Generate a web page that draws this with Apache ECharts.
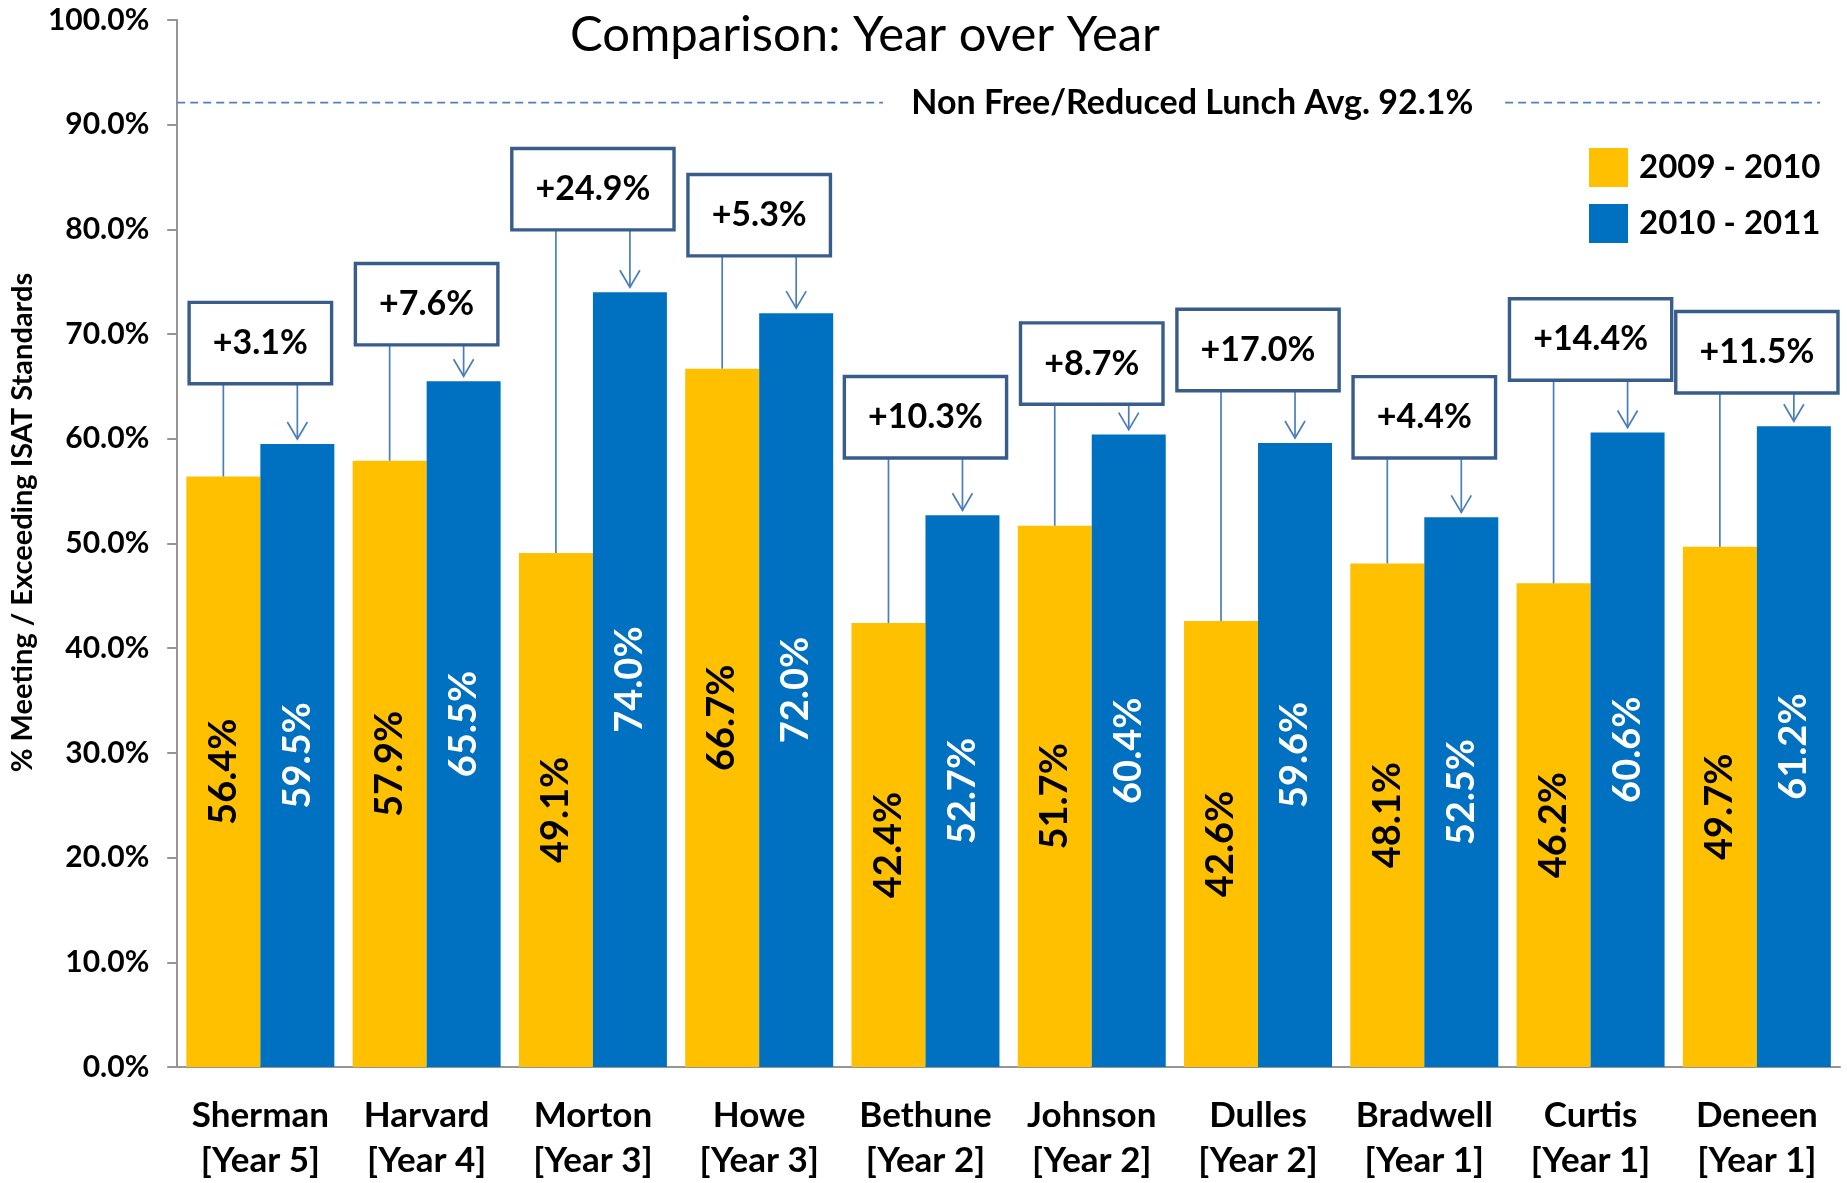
<!DOCTYPE html>
<html>
<head>
<meta charset="utf-8">
<script src="https://cdn.jsdelivr.net/npm/echarts@6/dist/echarts.min.js"></script>
<style>
  html, body { margin: 0; padding: 0; background: #fff; }
  #chart { width: 1847px; height: 1183px; }
</style>
</head>
<body>
<div id="chart"></div>
<script>
// schools on the x axis
var categories = [
  'Sherman\n[Year 5]', 'Harvard\n[Year 4]', 'Morton\n[Year 3]', 'Howe\n[Year 3]', 'Bethune\n[Year 2]',
  'Johnson\n[Year 2]', 'Dulles\n[Year 2]', 'Bradwell\n[Year 1]', 'Curtis\n[Year 1]', 'Deneen\n[Year 1]'
]
var seriesNames = ['2009 - 2010', '2010 - 2011']
var values0910 = [56.4, 57.9, 49.1, 66.7, 42.4, 51.7, 42.6, 48.1, 46.2, 49.7]
var values1011 = [59.5, 65.5, 74.0, 72.0, 52.7, 60.4, 59.6, 52.5, 60.6, 61.2]
var changeLabels = ['+3.1%', '+7.6%', '+24.9%', '+5.3%', '+10.3%', '+8.7%', '+17.0%', '+4.4%', '+14.4%', '+11.5%']
var benchmarkValue = 92.1
var benchmarkLabel = 'Non Free/Reduced Lunch Avg. 92.1%'
var yMin = 0, yMax = 100, yStep = 10

// layout: pixel gap between each callout box and its new-year bar
var calloutGap = [62, 38, 64, 59, 59, 32, 54, 61, 54, 35]

var FONT = 'Lato, "Open Sans", sans-serif'
var catGap = 0.11

var chart = echarts.init(document.getElementById('chart'))

function calloutItem(params, api) {
  var idx = api.value(0)
  var pOld = api.coord([idx, api.value(1)])
  var pNew = api.coord([idx, api.value(2)])
  var band = api.size([1, 0])[0]
  var barW = band * (1 - catGap) / 2
  var xOld = pOld[0] - barW / 2
  var xNew = pOld[0] + barW / 2
  var boxBottom = pNew[1] - calloutGap[idx]
  var lineStyle = { stroke: '#4A7EBB', lineWidth: 1.7 }
  return {
    type: 'group',
    children: [
      { type: 'line', shape: { x1: xOld, y1: boxBottom, x2: xOld, y2: pOld[1] }, style: lineStyle },
      { type: 'line', shape: { x1: xNew, y1: boxBottom, x2: xNew, y2: pNew[1] - 5 }, style: lineStyle },
      {
        type: 'polyline',
        shape: { points: [[xNew - 10, pNew[1] - 22], [xNew, pNew[1] - 5], [xNew + 10, pNew[1] - 22]] },
        style: { stroke: '#4A7EBB', lineWidth: 1.7, fill: 'none' }
      },
      {
        type: 'text',
        x: pOld[0],
        y: boxBottom,
        z2: 10,
        style: {
          text: changeLabels[idx],
          font: 'bold 34px ' + FONT,
          fill: '#000',
          align: 'center',
          verticalAlign: 'bottom',
          lineHeight: 42,
          backgroundColor: '#fff',
          borderColor: '#385D8A',
          borderWidth: 3.4,
          padding: [18, 22, 18, 22]
        }
      }
    ]
  }
}

function benchmarkItem(params, api) {
  var y = api.coord([0, api.value(1)])[1]
  var cs = params.coordSys
  var dash = { stroke: '#4F81BD', lineWidth: 1.8, lineDash: [8, 5] }
  return {
    type: 'group',
    children: [
      { type: 'line', shape: { x1: cs.x, y1: y, x2: cs.x + cs.width * 0.4245, y2: y }, style: dash },
      { type: 'line', shape: { x1: cs.x + cs.width * 0.7986, y1: y, x2: cs.x + cs.width * 0.988, y2: y }, style: dash },
      {
        type: 'text',
        x: cs.x + cs.width * 0.6105,
        y: y,
        style: {
          text: benchmarkLabel,
          font: 'bold 34px ' + FONT,
          fill: '#000',
          align: 'center',
          verticalAlign: 'middle'
        }
      }
    ]
  }
}

var barLabel = function (color) {
  return {
    show: true,
    position: 'inside',
    rotate: 90,
    color: color,
    fontFamily: FONT,
    fontWeight: 'bold',
    fontSize: 38,
    formatter: function (p) { return p.value.toFixed(1) + '%' }
  }
}

var option = {
  animation: false,
  backgroundColor: '#fff',
  title: {
    text: 'Comparison: Year over Year',
    left: 860,
    top: 6,
    textAlign: 'center',
    textStyle: { fontFamily: FONT, fontWeight: 'normal', fontSize: 49, color: '#000' }
  },
  legend: {
    data: seriesNames,
    orient: 'vertical',
    left: 1584,
    top: 143,
    itemWidth: 39,
    itemHeight: 39,
    itemGap: 17,
    icon: 'rect',
    textStyle: { fontFamily: FONT, fontWeight: 'bold', fontSize: 33, color: '#000', padding: [0, 0, 0, 6] }
  },
  grid: { left: 177, right: 7, top: 20, bottom: 112, containLabel: false },
  xAxis: {
    type: 'category',
    data: categories,
    axisLine: { lineStyle: { color: '#969696', width: 2 } },
    axisTick: { length: 11, lineStyle: { color: '#969696', width: 2 } },
    axisLabel: {
      margin: 26,
      interval: 0,
      fontFamily: FONT,
      fontWeight: 'bold',
      fontSize: 35,
      lineHeight: 45,
      color: '#000'
    }
  },
  yAxis: {
    type: 'value',
    min: yMin,
    max: yMax,
    interval: yStep,
    name: '% Meeting / Exceeding ISAT Standards',
    nameLocation: 'middle',
    nameRotate: 90,
    nameGap: 136,
    nameTextStyle: { fontFamily: FONT, fontWeight: 'bold', fontSize: 29, color: '#000', padding: [0, 0, 0, 42] },
    axisLine: { show: true, lineStyle: { color: '#969696', width: 2 } },
    axisTick: { show: true, length: 10, lineStyle: { color: '#969696', width: 2 } },
    splitLine: { show: false },
    axisLabel: {
      margin: 28,
      fontFamily: FONT,
      fontWeight: 'bold',
      fontSize: 30,
      color: '#000',
      formatter: function (v) { return v.toFixed(1) + '%' }
    }
  },
  series: [
    {
      name: seriesNames[0],
      type: 'bar',
      data: values0910,
      barGap: '0%',
      barCategoryGap: (catGap * 100) + '%',
      itemStyle: { color: '#FFC000' },
      label: barLabel('#000')
    },
    {
      name: seriesNames[1],
      type: 'bar',
      data: values1011,
      itemStyle: { color: '#0070C0' },
      label: barLabel('#fff')
    },
    {
      name: 'callouts',
      type: 'custom',
      renderItem: calloutItem,
      encode: { x: 0, y: [1, 2] },
      z: 5,
      data: values0910.map(function (v, i) { return [i, v, values1011[i]] })
    },
    {
      name: 'benchmark',
      type: 'custom',
      renderItem: benchmarkItem,
      encode: { x: 0, y: 1 },
      z: 4,
      data: [[0, benchmarkValue]]
    }
  ]
}

chart.setOption(option)
</script>
</body>
</html>
